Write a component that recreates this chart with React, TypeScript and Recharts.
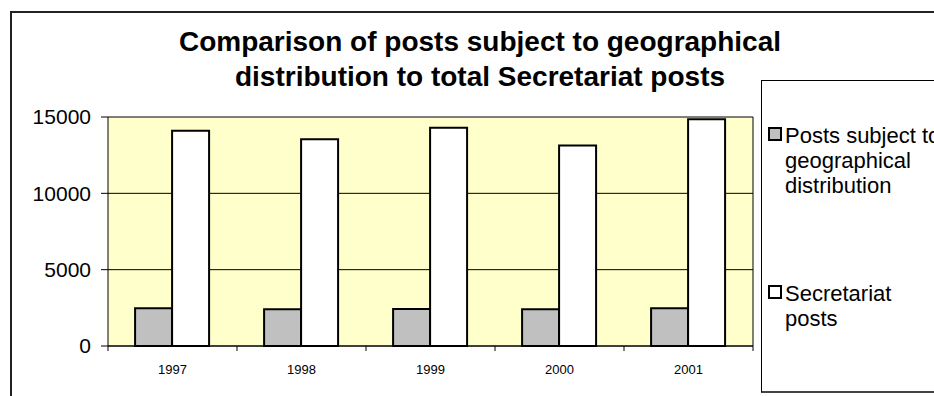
import { BarChart, Bar, XAxis, YAxis, CartesianGrid } from 'recharts';

const years = ['1997', '1998', '1999', '2000', '2001'];
const geoPosts = [2480, 2410, 2420, 2400, 2470];
const secretariatPosts = [14100, 13550, 14300, 13130, 14860];
const yTicks = [0, 5000, 10000, 15000];

const seriesNames = ['Posts subject to geographical distribution', 'Secretariat posts'];
const seriesColors = ['#c0c0c0', '#ffffff'];

const data = years.map((year, i) => ({
    year,
    geo: geoPosts[i],
    secretariat: secretariatPosts[i],
}));

// plot box inside the 934x396 canvas
const W = 934;
const H = 396;
const PLOT_LEFT = 108;
const PLOT_RIGHT = 753;
const PLOT_TOP = 117;
const PLOT_BOTTOM = 346;
const BAND = (PLOT_RIGHT - PLOT_LEFT) / years.length;
const FONT = '"Liberation Sans", Arial, sans-serif';

// category labels, with the tick marks placed between categories
const YearTick = (props: any) => {
    const { x, payload, index } = props;
    const left = x - BAND / 2;
    const right = x + BAND / 2;
    return (
        <g>
            <line x1={left} x2={left} y1={PLOT_BOTTOM} y2={PLOT_BOTTOM + 5} stroke="#000" />
            {index === years.length - 1 && (
                <line x1={right} x2={right} y1={PLOT_BOTTOM} y2={PLOT_BOTTOM + 5} stroke="#000" />
            )}
            <text x={x} y={PLOT_BOTTOM + 28} textAnchor="middle" fontSize={13} fill="#000" fontFamily={FONT}>
                {payload.value}
            </text>
        </g>
    );
};

const App = () => {
    return (
        <div style={{ position: 'absolute', left: 0, top: 0, width: W, height: H, overflow: 'hidden', fontFamily: FONT, background: '#fff' }}>
            <div
                style={{
                    position: 'absolute',
                    left: 10,
                    top: 11,
                    width: 1000,
                    height: 500,
                    border: '2px solid #222',
                }}
            />
            <div
                style={{
                    position: 'absolute',
                    left: 80,
                    width: 800,
                    top: 24,
                    textAlign: 'center',
                    fontWeight: 'bold',
                    fontSize: 28,
                    lineHeight: '35px',
                    color: '#000',
                    whiteSpace: 'nowrap',
                }}
            >
                Comparison of posts subject to geographical
                <br />
                distribution to total Secretariat posts
            </div>

            <div style={{ position: 'absolute', left: 0, top: 0 }}>
                <BarChart
                    width={W}
                    height={H}
                    data={data}
                    margin={{ top: PLOT_TOP, right: W - PLOT_RIGHT, bottom: 10, left: 0 }}
                    barCategoryGap="21%"
                    barGap={0}
                >
                    <CartesianGrid
                        fill="#ffffcc"
                        stroke="#000"
                        vertical={true}
                        verticalPoints={[PLOT_RIGHT]}
                    />
                    <XAxis
                        dataKey="year"
                        height={H - PLOT_BOTTOM - 10}
                        axisLine={{ stroke: '#000' }}
                        tickLine={false}
                        tick={<YearTick />}
                        interval={0}
                    />
                    <YAxis
                        width={PLOT_LEFT}
                        domain={[0, 15000]}
                        ticks={yTicks}
                        axisLine={{ stroke: '#000' }}
                        tickLine={{ stroke: '#000' }}
                        tickSize={7}
                        tickMargin={10}
                        tick={{ fontSize: 21, fill: '#000', fontFamily: FONT }}
                    />
                    <Bar dataKey="geo" fill={seriesColors[0]} stroke="#000" strokeWidth={2} isAnimationActive={false} />
                    <Bar dataKey="secretariat" fill={seriesColors[1]} stroke="#000" strokeWidth={2} isAnimationActive={false} />
                </BarChart>
            </div>

            <div
                style={{
                    position: 'absolute',
                    left: 761,
                    top: 80,
                    width: 220,
                    height: 310,
                    border: '1px solid #000',
                    borderBottom: '2px solid #444',
                    background: '#fff',
                }}
            >
                {seriesNames.map((name, i) => (
                    <div
                        key={name}
                        style={{ position: 'absolute', left: 6, top: i === 0 ? 42 : 200, display: 'flex', alignItems: 'flex-start' }}
                    >
                        <div
                            style={{
                                width: 10,
                                height: 10,
                                marginTop: 4,
                                background: seriesColors[i],
                                border: '2px solid #000',
                            }}
                        />
                        <div style={{ marginLeft: 3, width: 160, fontSize: 22, lineHeight: '25px', color: '#000' }}>{name}</div>
                    </div>
                ))}
            </div>
        </div>
    );
};

export default App;
